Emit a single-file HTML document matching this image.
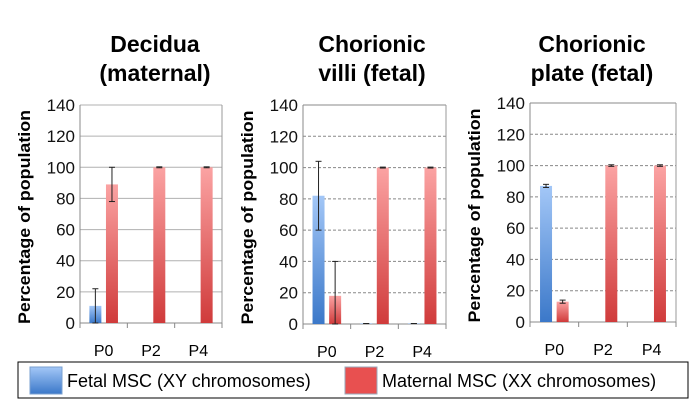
<!DOCTYPE html>
<html><head><meta charset="utf-8"><style>
body{margin:0;background:#fff;width:700px;height:411px;overflow:hidden;font-family:"Liberation Sans",sans-serif}
svg text{font-family:"Liberation Sans",sans-serif}
</style></head><body>
<svg id="c" width="700" height="411">
<defs>
<linearGradient id="gb" x1="0" y1="0" x2="0" y2="1"><stop offset="0" stop-color="#a3c7f7"/><stop offset="1" stop-color="#3b78c9"/></linearGradient>
<linearGradient id="gr" x1="0" y1="0" x2="0" y2="1"><stop offset="0" stop-color="#fba3a3"/><stop offset="1" stop-color="#d03b3b"/></linearGradient>
</defs>
<g>
<rect x="18" y="362" width="670" height="36" fill="#fff" stroke="#000" stroke-width="1"/>
<rect x="30" y="367" width="32" height="27" fill="url(#gb)" stroke="#7aa0d0"/>
<text x="67" y="387" font-size="18">Fetal MSC (XY chromosomes)</text>
<rect x="345" y="367" width="32" height="27" fill="#e85050" stroke="#9ab"/>
<text x="382" y="387" font-size="18">Maternal MSC (XX chromosomes)</text>
</g>
</svg>
<script>
const categories=["P0","P2","P4"];
const yTicks=[0,20,40,60,80,100,120,140];
const titles=[["Decidua","(maternal)"],["Chorionic","villi (fetal)"],["Chorionic","plate (fetal)"]];
const fetal1=[11,0,0], fetalErr1=[11,0,0];
const maternal1=[89,100,100], maternalErr1=[11,0.3,0.3];
const fetal2=[82,0.3,0.3], fetalErr2=[22,0,0];
const maternal2=[18,100,100], maternalErr2=[22,0.3,0.3];
const fetal3=[87,0,0], fetalErr3=[1,0,0];
const maternal3=[13,100,100], maternalErr3=[1,0.5,0.5];
const panels=[
 {x0:80,x1:222,yTop:105,yBot:323,dash:null,grid:"#b0b0b0",f:fetal1,fe:fetalErr1,m:maternal1,me:maternalErr1,tc:155},
 {x0:303,x1:446,yTop:105,yBot:324,dash:"3,2",grid:"#888",f:fetal2,fe:fetalErr2,m:maternal2,me:maternalErr2,tc:372},
 {x0:530,x1:676,yTop:103,yBot:322,dash:"3,2",grid:"#888",f:fetal3,fe:fetalErr3,m:maternal3,me:maternalErr3,tc:592}];
const svg=document.getElementById('c');
const NS="http://www.w3.org/2000/svg";
function mk(t,a,p){const e=document.createElementNS(NS,t);for(const k in a)e.setAttribute(k,a[k]);(p||svg).appendChild(e);return e;}
panels.forEach((p,pi)=>{
 const g=mk('g',{});
 
 
 const y=v=>p.yBot-(v/140)*(p.yBot-p.yTop);
 const cw=(p.x1-p.x0)/categories.length;
 const cx=i=>p.x0+cw*(i+0.5);
 titles[pi].forEach((s,k)=>{const t=mk('text',{x:p.tc,y:52+k*29,'font-size':23,'font-weight':'bold','text-anchor':'middle'},g);t.textContent=s;
  
  });
 yTicks.forEach(v=>{
  if(v>0){const l=mk('line',{x1:p.x0,x2:p.x1,y1:y(v),y2:y(v),stroke:p.grid,'stroke-width':1},g);if(p.dash&&v<140)l.setAttribute('stroke-dasharray',p.dash);
   
   }
  const t=mk('text',{x:p.x0-5,y:y(v)+6,'font-size':17,'text-anchor':'end',fill:'#111'},g);t.textContent=v;
  
  
 });
 mk('line',{x1:p.x1,x2:p.x1,y1:p.yTop,y2:p.yBot,stroke:'#999'},g);
 const ax=mk('line',{x1:p.x0,x2:p.x0,y1:p.yTop,y2:p.yBot,stroke:'#888'},g);
 
 
 mk('line',{x1:p.x0,x2:p.x1,y1:p.yBot,y2:p.yBot,stroke:'#888'},g);
 for(let i=0;i<=3;i++)mk('line',{x1:p.x0+cw*i,x2:p.x0+cw*i,y1:p.yBot,y2:p.yBot+5,stroke:'#888'},g);
 const yt=mk('text',{transform:`translate(${p.x0-50},${(p.yTop+p.yBot)/2+3}) rotate(-90)`,'font-size':17,'font-weight':'bold','text-anchor':'middle',textLength:214,lengthAdjust:'spacingAndGlyphs'},g);
 yt.textContent='Percentage of population';
 
 
 categories.forEach((c,i)=>{
  const t=mk('text',{x:cx(i),y:p.yBot+33,'font-size':16,'text-anchor':'middle'},g);t.textContent=c;
  
  
  [[p.f,p.fe,'url(#gb)',-14.3,'fetal'],[p.m,p.me,'url(#gr)',2.3,'maternal']].forEach(([vals,errs,fill,off,nm])=>{
   const v=vals[i],bx=cx(i)+off;
   const r=mk('rect',{x:bx,y:y(v),width:12,height:p.yBot-y(v),fill:fill},g);
   
   
   const e=errs[i];
   if(e>0||v>0){const mx=bx+6;const top=y(Math.min(v+e,140)),bot=y(Math.max(v-e,0));
    mk('line',{x1:mx,x2:mx,y1:top,y2:bot,stroke:'#222','stroke-width':1},g);
    mk('line',{x1:mx-3,x2:mx+3,y1:top,y2:top,stroke:'#222','stroke-width':1},g);
    mk('line',{x1:mx-3,x2:mx+3,y1:bot,y2:bot,stroke:'#222','stroke-width':1},g);}
  });
 });
});
</script>
</body></html>
